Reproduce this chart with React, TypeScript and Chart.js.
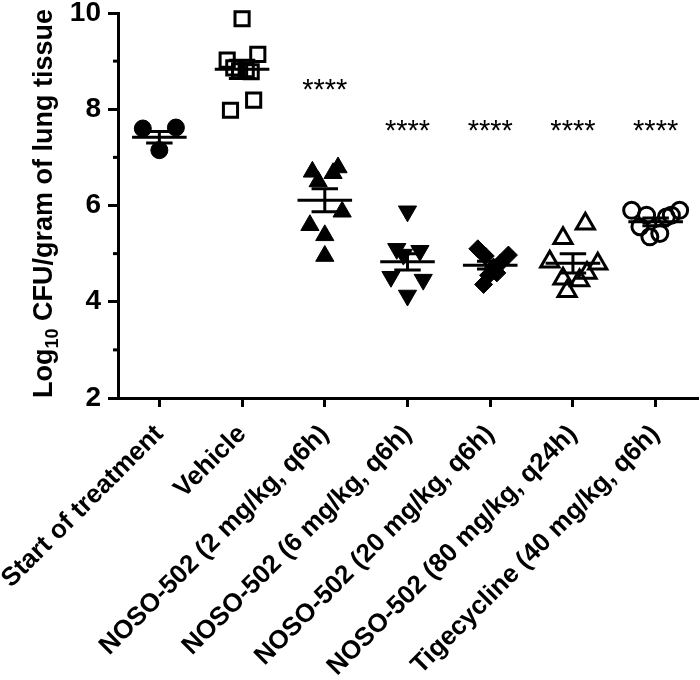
import { useEffect, useRef } from 'react';
import { Chart, registerables } from 'chart.js';

Chart.register(...registerables);

const categories = [
  'Start of treatment',
  'Vehicle',
  'NOSO-502 (2 mg/kg, q6h)',
  'NOSO-502 (6 mg/kg, q6h)',
  'NOSO-502 (20 mg/kg, q6h)',
  'NOSO-502 (80 mg/kg, q24h)',
  'Tigecycline (40 mg/kg, q6h)',
];

const yTickValues = [2, 3, 4, 5, 6, 7, 8, 9, 10];
const yTickLabels = ['2', '', '4', '', '6', '', '8', '', '10'];

const startValues = [7.6, 7.62, 7.15];
const startJitter = [-0.2, 0.2, 0];
const vehicleValues = [9.88, 9.02, 9.14, 8.86, 8.8, 8.82, 8.78, 7.98, 8.19];
const vehicleJitter = [0, -0.18, 0.19, -0.1, -0.03, 0.05, 0.11, -0.14, 0.14];
const noso2Values = [6.7, 6.79, 6.67, 6.5, 5.87, 5.59, 5.38, 4.95];
const noso2Jitter = [-0.15, 0.16, 0.1, -0.08, 0.21, -0.18, 0, 0];
const noso6Values = [5.88, 5.1, 5.06, 4.98, 4.52, 4.46, 4.13];
const noso6Jitter = [0, -0.13, 0.15, -0.05, -0.2, 0.19, 0];
const noso20Values = [5.1, 4.95, 4.97, 4.8, 4.72, 4.6, 4.55, 4.36];
const noso20Jitter = [-0.15, -0.06, 0.22, 0.12, 0.04, 0.08, -0.02, -0.08];
const noso80Values = [5.62, 5.32, 4.83, 4.79, 4.6, 4.48, 4.44, 4.22];
const noso80Jitter = [0.15, -0.12, -0.28, 0.3, 0.17, -0.12, 0.08, -0.07];
const tigeValues = [5.9, 5.8, 5.56, 5.35, 5.42, 5.76, 5.9, 5.8];
const tigeJitter = [-0.29, -0.11, -0.19, -0.07, 0.05, 0.13, 0.29, 0.19];

const groupMeans = [7.42, 8.83, 6.11, 4.83, 4.76, 4.8, 5.66];
const groupSems = [0.12, 0.19, 0.24, 0.17, 0.08, 0.2, 0.08];

const starLabels = ['', '', '****', '****', '****', '****', '****'];
const starValues = [null, null, 8.49, 7.64, 7.64, 7.64, 7.64];

const FONT = '"Liberation Sans", Arial, sans-serif';

function makeData(values: number[], jitter: number[], idx: number) {
  return values.map((v, i) => ({ x: idx + jitter[i], y: v }));
}

const errorBarPlugin = {
  id: 'errorBars',
  afterDatasetsDraw(chart: any) {
    const { ctx, scales } = chart;
    const xs = scales.x;
    const ys = scales.y;
    const unit = xs.getPixelForValue(1) - xs.getPixelForValue(0);
    ctx.save();
    ctx.strokeStyle = '#000';
    ctx.lineWidth = 3;
    ctx.lineCap = 'butt';
    groupMeans.forEach((m, i) => {
      const x = xs.getPixelForValue(i);
      const ym = ys.getPixelForValue(m);
      const yt = ys.getPixelForValue(m + groupSems[i]);
      const yb = ys.getPixelForValue(m - groupSems[i]);
      const mh = unit * 0.33;
      const sh = unit * 0.16;
      ctx.beginPath();
      ctx.moveTo(x - mh, ym);
      ctx.lineTo(x + mh, ym);
      ctx.moveTo(x - sh, yt);
      ctx.lineTo(x + sh, yt);
      ctx.moveTo(x - sh, yb);
      ctx.lineTo(x + sh, yb);
      ctx.moveTo(x, yt);
      ctx.lineTo(x, yb);
      ctx.stroke();
    });
    ctx.fillStyle = '#000';
    const fs = 29;
    ctx.font = `${fs}px ${FONT}`;
    ctx.textAlign = 'center';
    ctx.textBaseline = 'alphabetic';
    starLabels.forEach((s, i) => {
      const v = starValues[i];
      if (!s || v === null) return;
      const x = xs.getPixelForValue(i);
      const y = ys.getPixelForValue(v);
      ctx.fillText(s, x, y + fs * 0.45);
    });
    ctx.restore();
  },
};

const axisExtrasPlugin = {
  id: 'axisExtras',
  afterDraw(chart: any) {
    const { ctx, scales, chartArea } = chart;
    const ys = scales.y;
    ctx.save();
    ctx.strokeStyle = '#000';
    ctx.lineWidth = 3;
    yTickValues.forEach((v, i) => {
      if (yTickLabels[i]) return;
      const y = ys.getPixelForValue(v);
      ctx.beginPath();
      ctx.moveTo(chartArea.left - 5, y);
      ctx.lineTo(chartArea.left, y);
      ctx.stroke();
    });
    const big = 27;
    const small = 18;
    const parts = [
      { t: 'Log', f: `bold ${big}px ${FONT}`, dy: 0 },
      { t: '10', f: `bold ${small}px ${FONT}`, dy: 6 },
      { t: ' CFU/gram of lung tissue', f: `bold ${big}px ${FONT}`, dy: 0 },
    ];
    let total = 0;
    parts.forEach((p) => {
      ctx.font = p.f;
      total += ctx.measureText(p.t).width;
    });
    const cy = (chartArea.top + chartArea.bottom) / 2 - 2;
    ctx.translate(52, cy);
    ctx.rotate(-Math.PI / 2);
    ctx.fillStyle = '#000';
    ctx.textBaseline = 'alphabetic';
    ctx.textAlign = 'left';
    let x = -total / 2;
    parts.forEach((p) => {
      ctx.font = p.f;
      ctx.fillText(p.t, x, p.dy);
      x += ctx.measureText(p.t).width;
    });
    ctx.restore();
  },
};

export default function App() {
  const ref = useRef<HTMLCanvasElement>(null);
  useEffect(() => {
    if (!ref.current) return;
    const common = { borderColor: '#000', pointBorderColor: '#000', showLine: false, clip: false };
    const chart = new Chart(ref.current, {
      type: 'scatter',
      data: {
        datasets: [
          { ...common, data: makeData(startValues, startJitter, 0), pointStyle: 'circle', pointRadius: 8.5, pointBackgroundColor: '#000', pointBorderWidth: 1 },
          { ...common, data: makeData(vehicleValues, vehicleJitter, 1), pointStyle: 'rect', pointRadius: 10, pointBackgroundColor: 'rgba(0,0,0,0)', pointBorderWidth: 3 },
          { ...common, data: makeData(noso2Values, noso2Jitter, 2), pointStyle: 'triangle', pointRadius: 10.5, pointBackgroundColor: '#000', pointBorderWidth: 1 },
          { ...common, data: makeData(noso6Values, noso6Jitter, 3), pointStyle: 'triangle', pointRotation: 180, pointRadius: 10.5, pointBackgroundColor: '#000', pointBorderWidth: 1 },
          { ...common, data: makeData(noso20Values, noso20Jitter, 4), pointStyle: 'rectRot', pointRadius: 9, pointBackgroundColor: '#000', pointBorderWidth: 1 },
          { ...common, data: makeData(noso80Values, noso80Jitter, 5), pointStyle: 'triangle', pointRadius: 10.5, pointBackgroundColor: 'rgba(0,0,0,0)', pointBorderWidth: 3 },
          { ...common, data: makeData(tigeValues, tigeJitter, 6), pointStyle: 'circle', pointRadius: 8, pointBackgroundColor: 'rgba(0,0,0,0)', pointBorderWidth: 3 },
        ] as any,
      },
      options: {
        animation: false,
        responsive: false,
        maintainAspectRatio: false,
        layout: { autoPadding: false, padding: { top: 13, right: 3, left: 0, bottom: 0 } },
        plugins: { legend: { display: false }, tooltip: { enabled: false } },
        scales: {
          x: {
            type: 'linear',
            min: -0.5,
            max: 6.5,
            afterBuildTicks: (s: any) => {
              s.ticks = categories.map((_, i) => ({ value: i }));
            },
            afterFit: (s: any) => {
              s.height = 282;
              s.paddingLeft = 0;
              s.paddingRight = 0;
            },
            ticks: {
              autoSkip: false,
              maxRotation: 45,
              minRotation: 45,
              padding: 12,
              color: '#000',
              font: { family: FONT, size: 26, weight: 'bold' },
              callback: (v: any) => categories[v] ?? '',
            },
            grid: { drawOnChartArea: false, drawTicks: true, tickLength: 9, color: '#000', lineWidth: 3 },
            border: { display: true, color: '#000', width: 3 },
          },
          y: {
            type: 'linear',
            min: 2,
            max: 10,
            afterBuildTicks: (s: any) => {
              s.ticks = yTickValues.map((v) => ({ value: v }));
            },
            afterFit: (s: any) => {
              s.width = 118;
              s.paddingTop = 0;
              s.paddingBottom = 0;
            },
            ticks: {
              padding: 7,
              color: '#000',
              font: { family: FONT, size: 28, weight: 'bold' },
              callback: (v: any) => {
                const i = yTickValues.indexOf(v);
                return i >= 0 ? yTickLabels[i] : '';
              },
            },
            grid: {
              drawOnChartArea: false,
              drawTicks: true,
              tickLength: 10,
              lineWidth: 3,
              color: (c: any) => (c.tick && yTickLabels[yTickValues.indexOf(c.tick.value)] ? '#000' : 'rgba(0,0,0,0)'),
            },
            border: { display: true, color: '#000', width: 3 },
          },
        },
      },
      plugins: [errorBarPlugin, axisExtrasPlugin],
    } as any);
    return () => chart.destroy();
  }, []);
  return (
    <div style={{ position: 'fixed', left: 0, top: 0, width: 700, height: 680, background: '#fff' }}>
      <canvas ref={ref} width={700} height={680} style={{ width: 700, height: 680 }} />
    </div>
  );
}
